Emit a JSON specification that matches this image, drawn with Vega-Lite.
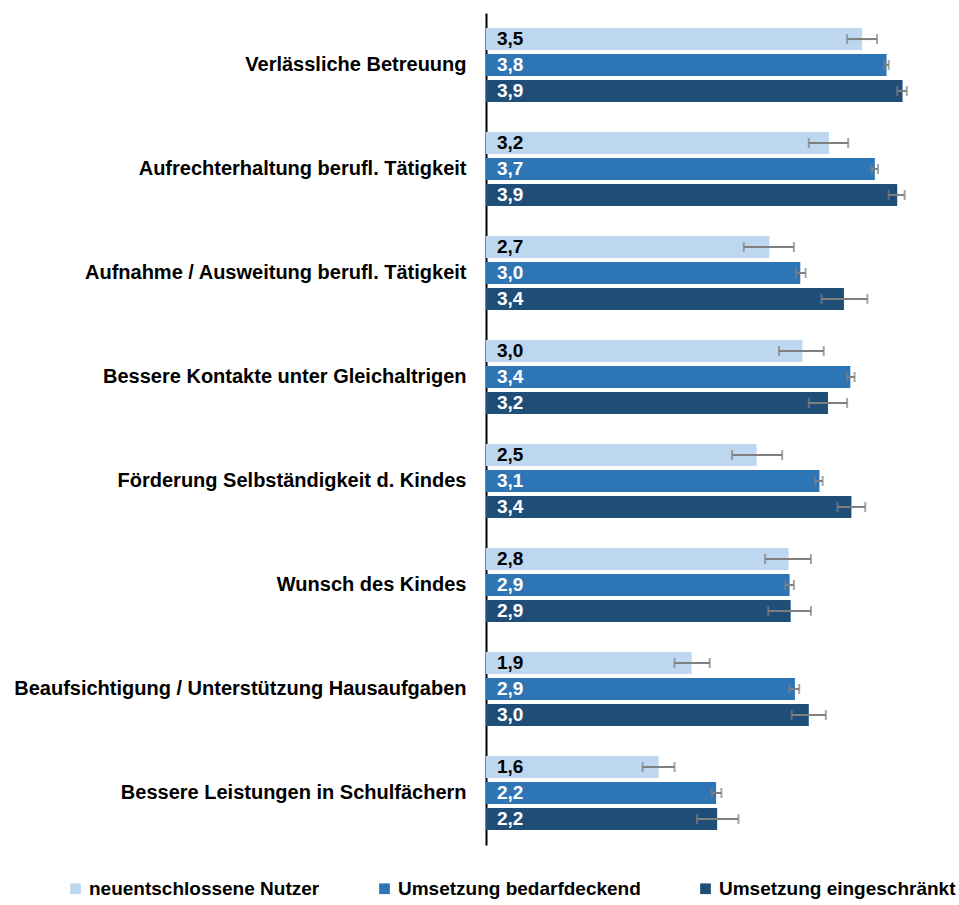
{
  "$schema": "https://vega.github.io/schema/vega-lite/v6.json",
  "autosize": {"type": "none"},
  "padding": {"left": 486, "top": 13, "right": 0, "bottom": 60},
  "width": 473,
  "height": 832,
  "background": "white",
  "config": {
    "font": "Liberation Sans",
    "view": {"stroke": null}
  },
  "data": {
    "values": [
      {"category": "Verlässliche Betreuung", "series": "neuentschlossene Nutzer", "value": 3.53, "label": "3,5", "lo": 3.39, "hi": 3.67},
      {"category": "Verlässliche Betreuung", "series": "Umsetzung bedarfdeckend", "value": 3.76, "label": "3,8", "lo": 3.74, "hi": 3.78},
      {"category": "Verlässliche Betreuung", "series": "Umsetzung eingeschränkt", "value": 3.91, "label": "3,9", "lo": 3.86, "hi": 3.95},
      {"category": "Aufrechterhaltung berufl. Tätigkeit", "series": "neuentschlossene Nutzer", "value": 3.22, "label": "3,2", "lo": 3.03, "hi": 3.40},
      {"category": "Aufrechterhaltung berufl. Tätigkeit", "series": "Umsetzung bedarfdeckend", "value": 3.65, "label": "3,7", "lo": 3.62, "hi": 3.68},
      {"category": "Aufrechterhaltung berufl. Tätigkeit", "series": "Umsetzung eingeschränkt", "value": 3.86, "label": "3,9", "lo": 3.78, "hi": 3.93},
      {"category": "Aufnahme / Ausweitung berufl. Tätigkeit", "series": "neuentschlossene Nutzer", "value": 2.66, "label": "2,7", "lo": 2.42, "hi": 2.89},
      {"category": "Aufnahme / Ausweitung berufl. Tätigkeit", "series": "Umsetzung bedarfdeckend", "value": 2.95, "label": "3,0", "lo": 2.91, "hi": 3.00},
      {"category": "Aufnahme / Ausweitung berufl. Tätigkeit", "series": "Umsetzung eingeschränkt", "value": 3.36, "label": "3,4", "lo": 3.15, "hi": 3.58},
      {"category": "Bessere Kontakte unter Gleichaltrigen", "series": "neuentschlossene Nutzer", "value": 2.97, "label": "3,0", "lo": 2.75, "hi": 3.17},
      {"category": "Bessere Kontakte unter Gleichaltrigen", "series": "Umsetzung bedarfdeckend", "value": 3.42, "label": "3,4", "lo": 3.39, "hi": 3.46},
      {"category": "Bessere Kontakte unter Gleichaltrigen", "series": "Umsetzung eingeschränkt", "value": 3.21, "label": "3,2", "lo": 3.03, "hi": 3.39},
      {"category": "Förderung Selbständigkeit d. Kindes", "series": "neuentschlossene Nutzer", "value": 2.54, "label": "2,5", "lo": 2.31, "hi": 2.78},
      {"category": "Förderung Selbständigkeit d. Kindes", "series": "Umsetzung bedarfdeckend", "value": 3.13, "label": "3,1", "lo": 3.09, "hi": 3.16},
      {"category": "Förderung Selbständigkeit d. Kindes", "series": "Umsetzung eingeschränkt", "value": 3.43, "label": "3,4", "lo": 3.30, "hi": 3.56},
      {"category": "Wunsch des Kindes", "series": "neuentschlossene Nutzer", "value": 2.84, "label": "2,8", "lo": 2.62, "hi": 3.05},
      {"category": "Wunsch des Kindes", "series": "Umsetzung bedarfdeckend", "value": 2.85, "label": "2,9", "lo": 2.81, "hi": 2.89},
      {"category": "Wunsch des Kindes", "series": "Umsetzung eingeschränkt", "value": 2.86, "label": "2,9", "lo": 2.65, "hi": 3.05},
      {"category": "Beaufsichtigung / Unterstützung Hausaufgaben", "series": "neuentschlossene Nutzer", "value": 1.93, "label": "1,9", "lo": 1.77, "hi": 2.10},
      {"category": "Beaufsichtigung / Unterstützung Hausaufgaben", "series": "Umsetzung bedarfdeckend", "value": 2.90, "label": "2,9", "lo": 2.85, "hi": 2.94},
      {"category": "Beaufsichtigung / Unterstützung Hausaufgaben", "series": "Umsetzung eingeschränkt", "value": 3.03, "label": "3,0", "lo": 2.87, "hi": 3.19},
      {"category": "Bessere Leistungen in Schulfächern", "series": "neuentschlossene Nutzer", "value": 1.62, "label": "1,6", "lo": 1.47, "hi": 1.77},
      {"category": "Bessere Leistungen in Schulfächern", "series": "Umsetzung bedarfdeckend", "value": 2.16, "label": "2,2", "lo": 2.12, "hi": 2.21},
      {"category": "Bessere Leistungen in Schulfächern", "series": "Umsetzung eingeschränkt", "value": 2.17, "label": "2,2", "lo": 1.98, "hi": 2.37}
    ]
  },
  "encoding": {
    "y": {
      "field": "category",
      "type": "nominal",
      "sort": null,
      "scale": {"paddingInner": 0.29, "paddingOuter": 0.145},
      "axis": {
        "title": null,
        "ticks": false,
        "domain": true,
        "domainColor": "black",
        "domainWidth": 2,
        "labelFont": "Liberation Sans",
        "labelFontSize": 20,
        "labelFontWeight": "bold",
        "labelColor": "black",
        "labelPadding": 20,
        "labelLimit": 600
      }
    },
    "yOffset": {
      "field": "series",
      "type": "nominal",
      "scale": {
        "domain": ["neuentschlossene Nutzer", "Umsetzung bedarfdeckend", "Umsetzung eingeschränkt"],
        "paddingInner": 0.154,
        "paddingOuter": 0
      }
    }
  },
  "layer": [
    {
      "mark": {"type": "bar"},
      "encoding": {
        "x": {
          "field": "value",
          "type": "quantitative",
          "scale": {"domain": [0, 4.44], "nice": false, "zero": true},
          "axis": null
        },
        "color": {
          "field": "series",
          "type": "nominal",
          "scale": {
            "domain": ["neuentschlossene Nutzer", "Umsetzung bedarfdeckend", "Umsetzung eingeschränkt"],
            "range": ["#BDD7EE", "#2E75B6", "#1F4E79"]
          },
          "legend": {
            "title": null,
            "orient": "none",
            "direction": "horizontal",
            "columns": 3,
            "legendX": -420,
            "legendY": 866,
            "padding": 0,
            "columnPadding": 55,
            "symbolType": "square",
            "symbolSize": 115,
            "symbolStrokeWidth": 0,
            "labelFont": "Liberation Sans",
            "labelFontSize": 19,
            "labelFontWeight": "bold",
            "labelColor": "black",
            "labelOffset": 4,
            "labelLimit": 400
          }
        }
      }
    },
    {
      "mark": {"type": "rule", "color": "#7F7F7F", "strokeWidth": 2},
      "encoding": {
        "x": {"field": "lo", "type": "quantitative"},
        "x2": {"field": "hi"}
      }
    },
    {
      "mark": {"type": "tick", "orient": "vertical", "color": "#7F7F7F", "size": 10, "thickness": 2},
      "encoding": {
        "x": {"field": "lo", "type": "quantitative"}
      }
    },
    {
      "mark": {"type": "tick", "orient": "vertical", "color": "#7F7F7F", "size": 10, "thickness": 2},
      "encoding": {
        "x": {"field": "hi", "type": "quantitative"}
      }
    },
    {
      "mark": {"type": "text", "align": "left", "baseline": "middle", "dx": 11, "font": "Liberation Sans", "fontSize": 19, "fontWeight": "bold"},
      "encoding": {
        "x": {"datum": 0, "type": "quantitative"},
        "text": {"field": "label"},
        "color": {
          "condition": {"test": "datum.series === 'neuentschlossene Nutzer'", "value": "black"},
          "value": "white"
        }
      }
    }
  ]
}
